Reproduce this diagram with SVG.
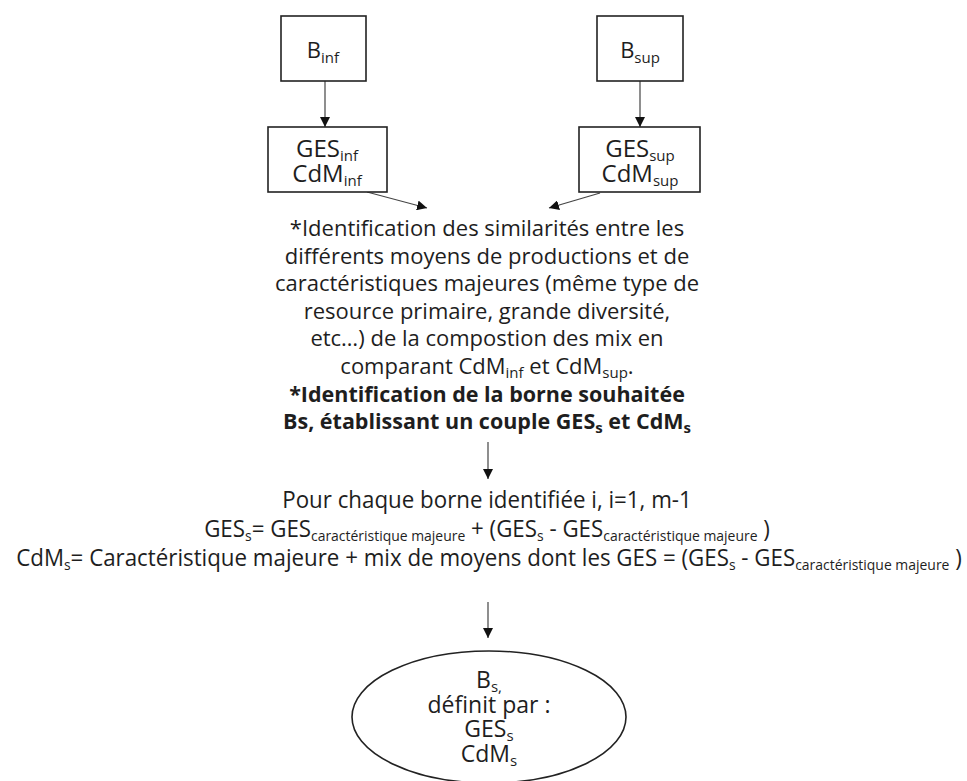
<svg xmlns="http://www.w3.org/2000/svg" width="967" height="781" viewBox="0 0 967 781">
  <style>
    .box { fill: #ffffff; stroke: #222222; stroke-width: 1.6; }
    .edge { fill: none; stroke: #444444; stroke-width: 1.2; }
    .t { font-family: "Open Sans", "Noto Sans", "Liberation Sans", sans-serif; fill: #1e1e1e; text-anchor: middle; }
    .n { font-size: 22px; }
    .g { font-size: 24px; }
    .e { font-size: 23px; }
    .p { font-size: 22px; }
    .b { font-size: 21.5px; font-weight: bold; }
    .f { font-size: 24px; }
    .sub { font-size: 15px; }
    .sub2 { font-size: 15px; }
  </style>
  <defs>
    <marker id="arrow" viewBox="0 0 10 10" refX="10" refY="5" markerWidth="10" markerHeight="10" markerUnits="userSpaceOnUse" orient="auto">
      <path d="M0,0 L10,5 L0,10 Z" fill="#111111"/>
    </marker>
  </defs>

  <rect width="967" height="781" fill="#ffffff"/>

  <!-- connectors -->
  <g id="connectors">
    <line class="edge" x1="325" y1="81" x2="325" y2="127" marker-end="url(#arrow)"/>
    <line class="edge" x1="640" y1="81" x2="640" y2="127" marker-end="url(#arrow)"/>
    <line class="edge" x1="367" y1="192" x2="427" y2="208" marker-end="url(#arrow)"/>
    <line class="edge" x1="600" y1="193" x2="549" y2="208" marker-end="url(#arrow)"/>
    <line class="edge" x1="488" y1="442" x2="488" y2="479" marker-end="url(#arrow)"/>
    <line class="edge" x1="488" y1="602" x2="488" y2="638" marker-end="url(#arrow)"/>
  </g>

  <!-- lower bound -->
  <g id="b-inf">
    <rect class="box" x="281" y="16" width="85" height="65"/>
    <text class="t n" x="323" y="58">B<tspan class="sub" dy="5">inf</tspan></text>
  </g>

  <!-- upper bound -->
  <g id="b-sup">
    <rect class="box" x="597" y="16" width="86" height="65"/>
    <text class="t n" x="640" y="58">B<tspan class="sub" dy="5">sup</tspan></text>
  </g>

  <g id="ges-inf">
    <rect class="box" x="268" y="127" width="119" height="65"/>
    <text class="t g" x="327" y="157">GES<tspan class="sub" dy="4">inf</tspan></text>
    <text class="t g" x="327" y="182">CdM<tspan class="sub" dy="4">inf</tspan></text>
  </g>

  <g id="ges-sup">
    <rect class="box" x="579" y="127" width="121" height="65"/>
    <text class="t g" x="640" y="157">GES<tspan class="sub" dy="4">sup</tspan></text>
    <text class="t g" x="640" y="182">CdM<tspan class="sub" dy="4">sup</tspan></text>
  </g>

  <!-- identification step -->
  <g id="identification">
    <text class="t p" x="487" y="236">*Identification des similarités entre les</text>
    <text class="t p" x="487" y="264">différents moyens de productions et de</text>
    <text class="t p" x="487" y="291">caractéristiques majeures (même type de</text>
    <text class="t p" x="487" y="319">resource primaire, grande diversité,</text>
    <text class="t p" x="487" y="346">etc…) de la compostion des mix en</text>
    <text class="t p" x="487" y="374">comparant CdM<tspan class="sub" dy="4">inf</tspan><tspan dy="-4"> et CdM</tspan><tspan class="sub" dy="4">sup</tspan><tspan dy="-4">.</tspan></text>
    <text class="t b" x="487" y="402">*Identification de la borne souhaitée</text>
    <text class="t b" x="487" y="429">Bs, établissant un couple GES<tspan class="sub" dy="4">s</tspan><tspan dy="-4"> et CdM</tspan><tspan class="sub" dy="4">s</tspan></text>
  </g>

  <!-- per-bound computation -->
  <g id="computation">
    <g transform="translate(487,0) scale(0.93,1)">
      <text class="t f" x="0" y="508">Pour chaque borne identifiée i, i=1, m-1</text>
      <text class="t f" x="0" y="537">GES<tspan class="sub2" dy="4">s</tspan><tspan dy="-4">= GES</tspan><tspan class="sub2" dy="4">caractéristique majeure</tspan><tspan dy="-4"> + (GES</tspan><tspan class="sub2" dy="4">s</tspan><tspan dy="-4"> - GES</tspan><tspan class="sub2" dy="4">caractéristique majeure</tspan><tspan dy="-4"> )</tspan></text>
    </g>
    <g transform="translate(489,0) scale(0.93,1)">
      <text class="t f" x="0" y="566">CdM<tspan class="sub2" dy="4">s</tspan><tspan dy="-4">= Caractéristique majeure + mix de moyens dont les GES = (GES</tspan><tspan class="sub2" dy="4">s</tspan><tspan dy="-4"> - GES</tspan><tspan class="sub2" dy="4">caractéristique majeure</tspan><tspan dy="-4"> )</tspan></text>
    </g>
  </g>

  <!-- resulting bound -->
  <g id="b-s">
    <ellipse class="box" cx="489" cy="717" rx="137" ry="66"/>
    <text class="t e" x="489" y="688">B<tspan class="sub" dy="4">s,</tspan></text>
    <text class="t e" x="489" y="713">définit par :</text>
    <text class="t e" x="489" y="737">GES<tspan class="sub" dy="4">s</tspan></text>
    <text class="t e" x="489" y="762">CdM<tspan class="sub" dy="4">s</tspan></text>
  </g>
</svg>
